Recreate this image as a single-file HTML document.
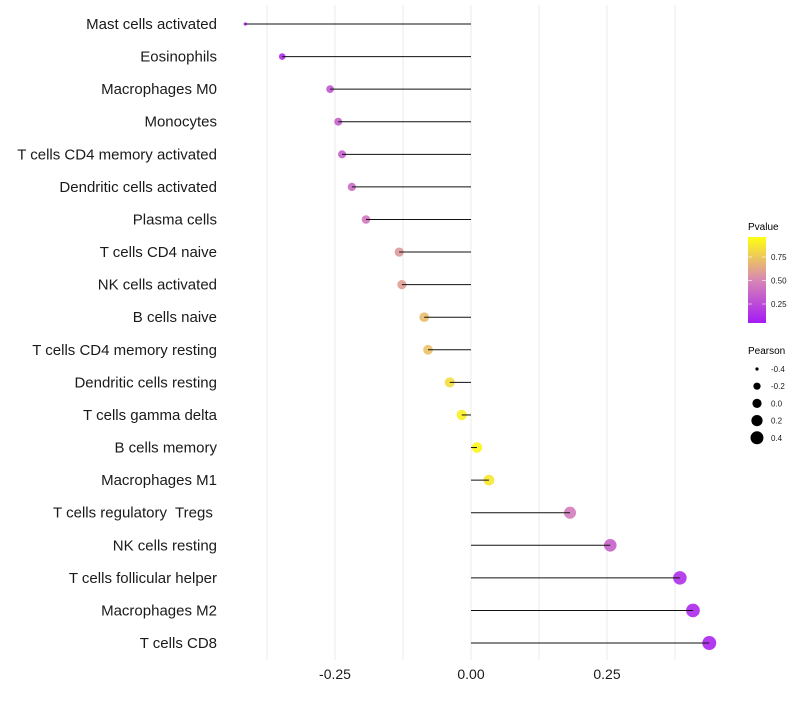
<!DOCTYPE html>
<html><head><meta charset="utf-8"><style>
body{margin:0;background:#fff;font-family:"Liberation Sans",sans-serif}
svg text{font-family:"Liberation Sans",sans-serif;white-space:pre}
</style></head><body>
<svg id="chart" width="800" height="700" xmlns="http://www.w3.org/2000/svg">
<defs><linearGradient id="pg" x1="0" y1="1" x2="0" y2="0">
<stop offset="0" stop-color="#a51af5"/><stop offset="0.5" stop-color="#d887b4"/><stop offset="1" stop-color="#ffff10"/></linearGradient></defs>
<g id="grid"></g>
<g id="marks"></g>
<g id="ylab"></g>
<g id="xlab"></g>
<g>
<text x="748" y="230" font-size="10">Pvalue</text>
<rect x="748" y="237" width="18" height="86" fill="url(#pg)"/>
<g id="cbticks"></g>
</g>
<g id="sizeleg">
<text x="748" y="354" font-size="10">Pearson</text>
</g>
</svg>
<script>
const categories=["Mast cells activated","Eosinophils","Macrophages M0","Monocytes","T cells CD4 memory activated","Dendritic cells activated","Plasma cells","T cells CD4 naive","NK cells activated","B cells naive","T cells CD4 memory resting","Dendritic cells resting","T cells gamma delta","B cells memory","Macrophages M1","T cells regulatory  Tregs ","NK cells resting","T cells follicular helper","Macrophages M2","T cells CD8"];
const pearson=[-0.415,-0.347,-0.259,-0.244,-0.237,-0.219,-0.193,-0.132,-0.127,-0.086,-0.079,-0.039,-0.017,0.011,0.033,0.182,0.256,0.384,0.408,0.438];
const pvalue=[0.03,0.08,0.28,0.32,0.33,0.37,0.42,0.58,0.6,0.72,0.74,0.86,0.94,0.96,0.9,0.45,0.32,0.1,0.07,0.05];
const xTicks=[-0.25,0,0.25];
const xTickLabels=["-0.25","0.00","0.25"];
const pTicks=[0.25,0.5,0.75];
const pTickLabels=["0.25","0.50","0.75"];
const sizeBreaks=[-0.4,-0.2,0,0.2,0.4];
const sizeLabels=["-0.4","-0.2","0.0","0.2","0.4"];
const NS="http://www.w3.org/2000/svg";
const x=v=>471+v*544;
const y=i=>24+i*32.58;
const r=v=>Math.sqrt(Math.max(2.6,28+48*(v-0.01)-(v<-0.35?(-0.35-v)*180:0)));
const py=p=>327.5-p*94;
function lerp(a,b,t){return a.map((c,k)=>Math.round(c+(b[k]-c)*t));}
function col(p){const a=[165,26,245],m=[216,135,180],b=[255,255,16];const c=p<0.5?lerp(a,m,p/0.5):lerp(m,b,(p-0.5)/0.5);return `rgb(${c.join(',')})`;}
function mk(t,at,par){const e=document.createElementNS(NS,t);for(const k in at)e.setAttribute(k,at[k]);document.getElementById(par).appendChild(e);return e;}
for(let v=-0.375;v<=0.45;v+=0.125){const l=mk('line',{x1:x(v),x2:x(v),y1:5,y2:660,stroke:'#ebebeb','stroke-width':1},'grid');

}
categories.forEach((c,i)=>{
const pt=mk('circle',{cx:x(pearson[i]),cy:y(i),r:r(pearson[i]),fill:col(pvalue[i]),'fill-opacity':0.9},'marks');


const s=mk('line',{x1:x(0),x2:x(pearson[i]),y1:y(i),y2:y(i),stroke:'#111','stroke-width':1},'marks');


const t=mk('text',{x:217,y:y(i)+5,'font-size':15,'text-anchor':'end',fill:'#1a1a1a'},'ylab');t.textContent=c;


});
xTicks.forEach((v,i)=>{const t=mk('text',{x:x(v),y:679,'font-size':14,'text-anchor':'middle',fill:'#1a1a1a'},'xlab');t.textContent=xTickLabels[i];

});
pTicks.forEach((p,i)=>{mk('line',{x1:748,x2:752,y1:py(p),y2:py(p),stroke:'#fff','stroke-width':0.6},'cbticks');mk('line',{x1:762,x2:766,y1:py(p),y2:py(p),stroke:'#fff','stroke-width':0.6},'cbticks');
const t=mk('text',{x:771,y:py(p)+3,'font-size':8,fill:'#1a1a1a'},'cbticks');t.textContent=pTickLabels[i];

});
const legR=[2.2,3.6,4.6,5.6,6.5];
sizeBreaks.forEach((v,i)=>{const cy=369+i*17.2;const c=mk('circle',{cx:757,cy:cy,r:Math.min(r(v),legR[i]),fill:'#000'},'sizeleg');


const t=mk('text',{x:771,y:cy+3,'font-size':8,fill:'#1a1a1a'},'sizeleg');t.textContent=sizeLabels[i];

});
</script>
</body></html>
